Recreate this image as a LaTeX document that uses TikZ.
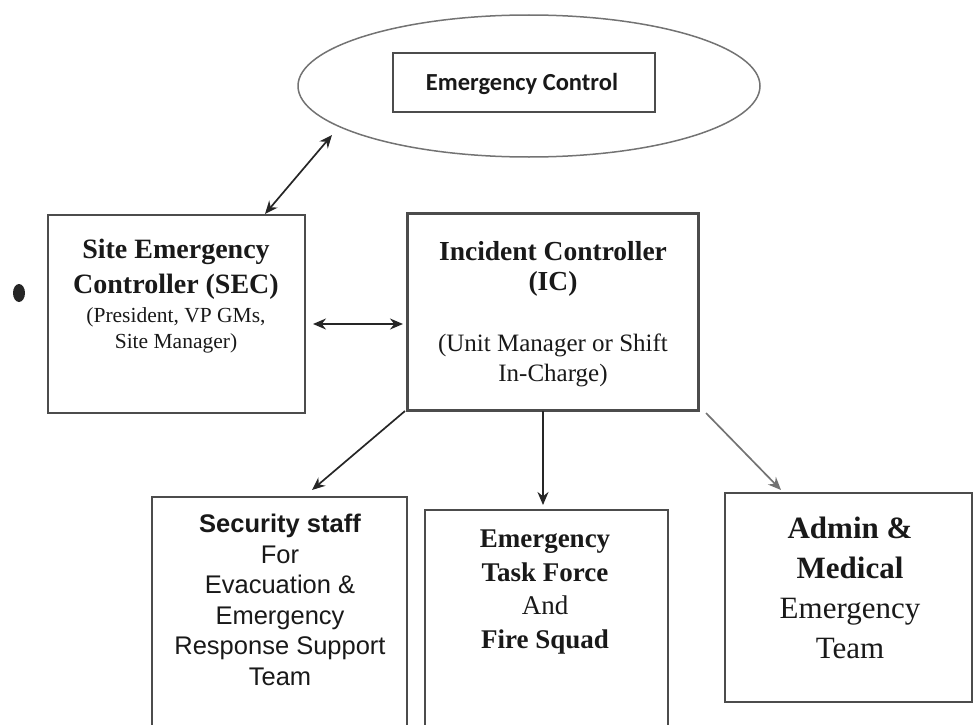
\documentclass[tikz,border=0pt]{standalone}
\usepackage{fontspec}
\setmainfont{Liberation Serif}
\newfontfamily\arialf{Liberation Sans}
\newfontfamily\calibrif{Carlito}
\usetikzlibrary{arrows.meta,shapes.geometric}
\begin{document}
\begin{tikzpicture}[x=1pt,y=-1pt,
  box/.style={draw=black!70,line width=1.8pt,rectangle,inner sep=0pt},
  conn/.style={draw=black!85,line width=1.7pt,-{Stealth[length=13pt,width=11pt]}},
  dconn/.style={draw=black!85,line width=1.7pt,{Stealth[length=13pt,width=11pt]}-{Stealth[length=13pt,width=11pt]}},
  txt/.style={align=center,inner sep=0pt,text=black!90}]
\useasboundingbox (0,0) rectangle (974,725);
\clip (0,0) rectangle (974,725);
% ellipse and emergency control
\node[draw=black!55,line width=1.5pt,ellipse,minimum width=462pt,minimum height=142pt,inner sep=0pt] (ell) at (529,86) {};
\node[box,minimum width=262pt,minimum height=59pt] (ec) at (524,82.5) {};
\node[txt,font=\calibrif\bfseries\fontsize{24.5}{28}\selectfont] (ect) at (522,84) {Emergency Control};
% SEC
\node[box,minimum width=257pt,minimum height=198pt] (sec) at (176.5,314) {};
\node[txt,font=\fontsize{21.5}{27}\selectfont] (sect) at (176,296) {{\fontsize{28}{27}\selectfont\bfseries Site Emergency}\\[8pt]{\fontsize{28}{27}\selectfont\bfseries Controller (SEC)}\\[2pt](President, VP GMs,\\[-1pt]Site Manager)};
% IC
\node[box,line width=3pt,minimum width=291pt,minimum height=197pt] (ic) at (552.5,311.5) {};
\node[txt,font=\fontsize{25}{30}\selectfont] (ict) at (553,314) {{\fontsize{27.5}{30}\selectfont\bfseries Incident Controller}\\{\fontsize{27.5}{30}\selectfont\bfseries (IC)}\\[31pt](Unit Manager or Shift\\In-Charge)};
% security
\node[box,minimum width=255pt,minimum height=240pt] (sec2) at (279.5,617) {};
\node[txt,font=\arialf\fontsize{25.5}{30.5}\selectfont] (sec2t) at (280,600) {\bfseries Security staff\\For\\Evacuation \&\\Emergency\\Response Support\\Team};
% ETF
\node[box,minimum width=243pt,minimum height=230pt] (etf) at (546.5,625) {};
\node[txt,font=\fontsize{27}{33.5}\selectfont] (etft) at (545,592) {\bfseries Emergency\\\bfseries Task Force\\And\\\bfseries Fire Squad};
% Admin
\node[box,minimum width=247pt,minimum height=209pt] (adm) at (848.5,597.5) {};
\node[txt,font=\fontsize{31}{40}\selectfont] (admt) at (850,588) {\bfseries Admin \&\\\bfseries Medical\\Emergency\\Team};
% connectors
\coordinate (ellA) at (332,135);
\coordinate (secA) at (265,214);
\coordinate (secR) at (313,324);
\coordinate (icL) at (403,324);
\draw[dconn] (secA) -- (ellA);
\draw[dconn] (secR) -- (icL);
\coordinate (icBL) at (405,411);
\coordinate (icB) at (543,411);
\coordinate (icBR) at (706,413);
\coordinate (sTop) at (312,490);
\coordinate (eTop) at (543,505);
\coordinate (aTop) at (781,490);
\draw[conn] (icBL) -- (sTop);
\draw[conn] (icB) -- (eTop);
\draw[conn,draw=black!55] (icBR) -- (aTop);
% stray blot
\fill[black!85] (19,293) ellipse (6pt and 9pt);
\end{tikzpicture}
\end{document}
